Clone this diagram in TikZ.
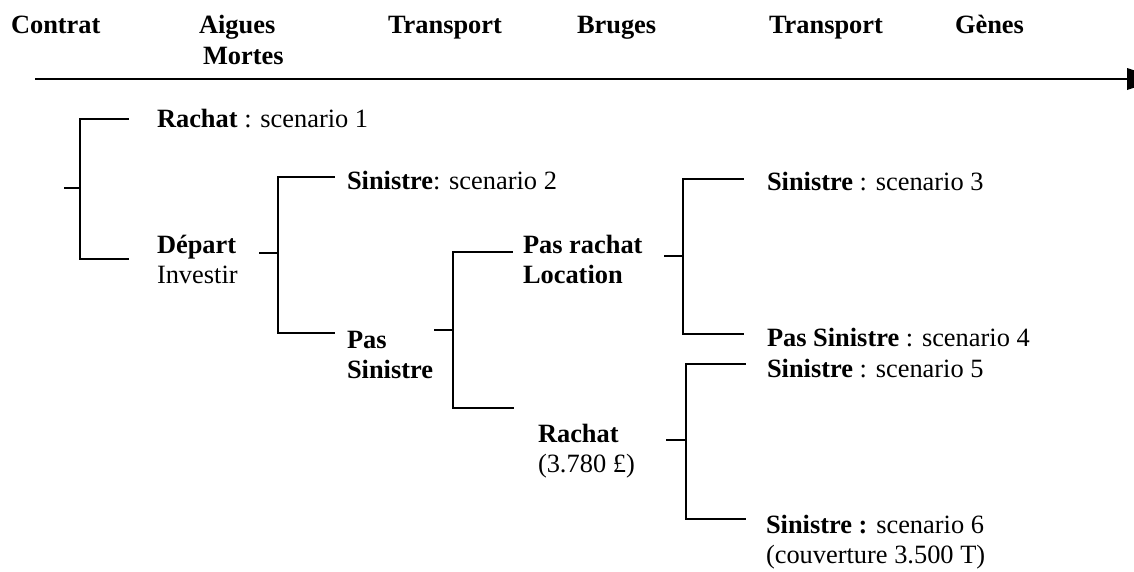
\documentclass[tikz,border=0pt]{standalone}
\usepackage{fontspec}
\setmainfont{Liberation Serif}
\begin{document}
\begin{tikzpicture}[x=1pt,y=-1pt,
  lbl/.style={anchor=base west,inner sep=0pt,outer sep=0pt,font=\fontsize{26.4}{30}\selectfont},
  hdr/.style={lbl,font=\fontsize{26.4}{30}\selectfont\bfseries},
  branch/.style={line width=1.8pt,line cap=rect},
  axisline/.style={line width=2.6pt}]
\useasboundingbox (0,0) rectangle (1134,571);
\clip (0,0) rectangle (1134,571);
% header labels
\node[hdr] (h1) at (11,33) {Contrat};
\node[hdr] (h2) at (199,33) {Aigues};
\node[hdr] (h2b) at (203,64) {Mortes};
\node[hdr] (h3) at (388,33) {Transport};
\node[hdr] (h4) at (577,33) {Bruges};
\node[hdr] (h5) at (769,33) {Transport};
\node[hdr] (h6) at (955,33) {Gènes};
% time axis
\coordinate (axs) at (35,79);
\coordinate (axe) at (1127,79);
\draw[axisline] (axs) -- (axe);
\fill (1127,68) -- (1127,90) -- (1160,79) -- cycle;
% labels
\node[lbl] (r1) at (157,127) {\textbf{Rachat} : scenario 1};
\node[lbl] (dep) at (157,253) {\textbf{Départ}};
\node[lbl] (inv) at (157,283) {Investir};
\node[lbl] (s2) at (347,189) {\textbf{Sinistre}: scenario 2};
\node[lbl] (pas) at (347,348) {\textbf{Pas}};
\node[lbl] (pasb) at (347,378) {\textbf{Sinistre}};
\node[lbl] (pr) at (523,253) {\textbf{Pas rachat}};
\node[lbl] (loc) at (523,283) {\textbf{Location}};
\node[lbl] (rach) at (538,442) {\textbf{Rachat}};
\node[lbl] (rachb) at (538,472) {(3.780 £)};
\node[lbl] (s3) at (767,190) {\textbf{Sinistre} : scenario 3};
\node[lbl] (s4) at (767,346) {\textbf{Pas Sinistre} : scenario 4};
\node[lbl] (s5) at (767,377) {\textbf{Sinistre} : scenario 5};
\node[lbl] (s6) at (766,533) {\textbf{Sinistre :} scenario 6};
\node[lbl] (s6b) at (766,563) {(couverture 3.500 T)};
% bracket 1
\coordinate (b1s) at (65,188);
\coordinate (b1j) at (80,188);
\coordinate (b1t) at (80,119);
\coordinate (b1te) at (128,119);
\coordinate (b1b) at (80,259);
\coordinate (b1be) at (128,259);
\draw[branch] (b1s) -- (b1j);
\draw[branch] (b1te) -- (b1t) -- (b1b) -- (b1be);
% bracket 2
\coordinate (b2s) at (260,253);
\coordinate (b2j) at (278,253);
\coordinate (b2t) at (278,177);
\coordinate (b2te) at (334,177);
\coordinate (b2b) at (278,333);
\coordinate (b2be) at (334,333);
\draw[branch] (b2s) -- (b2j);
\draw[branch] (b2te) -- (b2t) -- (b2b) -- (b2be);
% bracket 3
\coordinate (b3s) at (435,330);
\coordinate (b3j) at (453,330);
\coordinate (b3t) at (453,252);
\coordinate (b3te) at (512,252);
\coordinate (b3b) at (453,408);
\coordinate (b3be) at (513,408);
\draw[branch] (b3s) -- (b3j);
\draw[branch] (b3te) -- (b3t) -- (b3b) -- (b3be);
% bracket 4
\coordinate (b4s) at (665,256);
\coordinate (b4j) at (683,256);
\coordinate (b4t) at (683,179);
\coordinate (b4te) at (743,179);
\coordinate (b4b) at (683,334);
\coordinate (b4be) at (743,334);
\draw[branch] (b4s) -- (b4j);
\draw[branch] (b4te) -- (b4t) -- (b4b) -- (b4be);
% bracket 5
\coordinate (b5s) at (667,440);
\coordinate (b5j) at (686,440);
\coordinate (b5t) at (686,364);
\coordinate (b5te) at (745,364);
\coordinate (b5b) at (686,519);
\coordinate (b5be) at (745,519);
\draw[branch] (b5s) -- (b5j);
\draw[branch] (b5te) -- (b5t) -- (b5b) -- (b5be);
\end{tikzpicture}
\end{document}
